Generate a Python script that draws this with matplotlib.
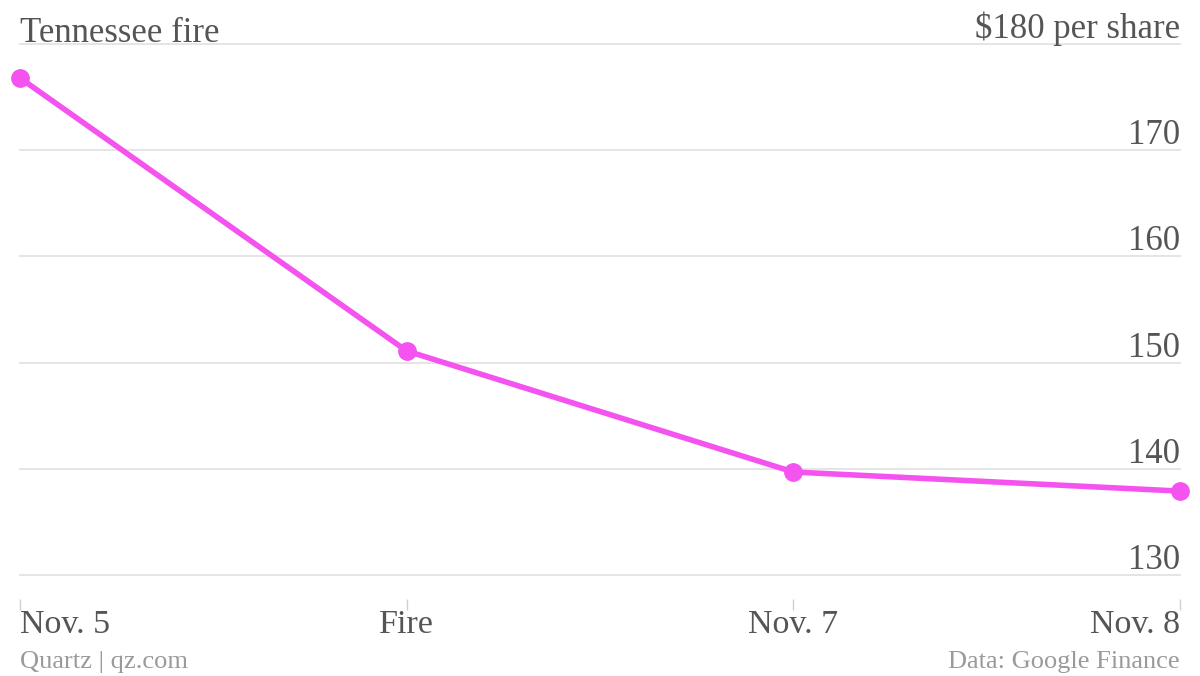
import matplotlib
matplotlib.use("Agg")
import matplotlib.pyplot as plt

categories = ["Nov. 5", "Fire", "Nov. 7", "Nov. 8"]
prices = [176.8, 151.1, 139.7, 137.9]
yticks = [130, 140, 150, 160, 170, 180]
ytick_labels = ["130", "140", "150", "160", "170", "$180 per share"]
title = "Tennessee fire"
source_left = "Quartz | qz.com"
source_right = "Data: Google Finance"

plt.rcParams['font.family'] = ['Liberation Serif', 'DejaVu Serif']

W, H = 1200, 676
fig = plt.figure(figsize=(12, 6.76), dpi=100)
ax = fig.add_axes([20 / W, 1 - 575 / H, 1160 / W, (575 - 44) / H])

line_color = "#f553ef"
text_color = "#555555"
x = list(range(len(categories)))
ax.plot(x, prices, color=line_color, lw=4.0, marker="o", ms=12.5,
        clip_on=False, zorder=5, solid_capstyle="round")

ax.set_xlim(0, len(categories) - 1)
ax.set_ylim(130, 180)

# gridlines
for v in yticks:
    ax.axhline(v, color="#e3e3e3", lw=1.3, zorder=1, clip_on=False)
ax.set_yticks([])

# y labels above gridlines, right aligned
for v, lab in zip(yticks, ytick_labels):
    ax.annotate(lab, xy=(1, v), xycoords=("axes fraction", "data"),
                xytext=(0, 4.3), textcoords="offset points",
                ha="right", va="baseline", fontsize=25, color=text_color)

ax.annotate(title, xy=(0, 180), xycoords=("axes fraction", "data"),
            xytext=(0, 1.3), textcoords="offset points",
            ha="left", va="baseline", fontsize=25, color=text_color)

# x ticks
for s in ["top", "right", "left"]:
    ax.spines[s].set_visible(False)
ax.spines["bottom"].set_position(("outward", 17))
ax.spines["bottom"].set_color("none")
ax.set_xticks(x)
ax.set_xticklabels(categories, fontsize=24.5, color=text_color)
ax.tick_params(axis="x", length=8, width=1, color="#d0d0d0", pad=0)
labels = ax.get_xticklabels()
labels[0].set_ha("left")
labels[-1].set_ha("right")

fig.text(20 / W, 1 - 668 / H, source_left, ha="left", va="baseline",
         fontsize=19, color="#9a9a9a")
fig.text(1180 / W, 1 - 668 / H, source_right, ha="right", va="baseline",
         fontsize=19, color="#9a9a9a")

fig.savefig("out.png", dpi=100, facecolor="white")
